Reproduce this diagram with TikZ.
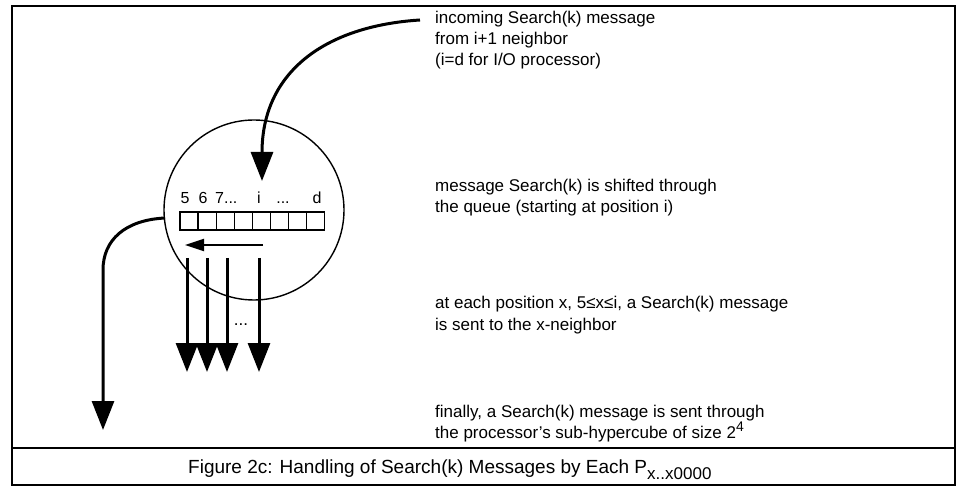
\documentclass[tikz,border=0pt]{standalone}
\usepackage{fontspec}
\setmainfont{Liberation Sans}
\usetikzlibrary{arrows.meta, positioning, calc}
\tikzset{
    font=\fontsize{17}{21}\selectfont,
    % Lines
    outerframe/.style={draw, line width=1.4pt},
    qcell/.style={rectangle, draw, line width=1.3pt, minimum width=18.1pt,
                  minimum height=18pt, inner sep=0pt, outer sep=0pt},
    % Flow & Labels
    bigflow/.style={-{Triangle[width=22pt,length=29pt]}, line width=3pt},
    queueflow/.style={-{Triangle[width=12pt,length=19pt]}, line width=2pt},
    qlbl/.style={anchor=base, inner sep=0pt, font=\fontsize{16}{16}\selectfont},
    note/.style={anchor=base west, align=left, inner sep=0pt}
}

\begin{document}
\begin{tikzpicture}[x=1pt, y=-1pt]

\useasboundingbox (0,0) rectangle (958,486);

% frame and caption band
\draw[outerframe] (12,6) rectangle (955,485);
\draw[outerframe] (12,448) -- (955,448);

% processor with its queue
\node[circle, draw, line width=1.4pt, minimum size=180pt, inner sep=0pt] (proc) at (254,210) {};
\foreach \i in {1,...,8}
    \node[qcell] (q\i) at ({180+18.1*(\i-0.5)},221) {};

\node[qlbl] (l5) at (185,204) {5};
\node[qlbl] (l6) at (203,204) {6};
\node[qlbl, anchor=base west] (l7) at (215,204) {7...};
\node[qlbl] (li) at (259,204) {i};
\node[qlbl] (ldots) at (283,204) {...};
\node[qlbl] (ld) at (317,204) {d};

% connectors
\coordinate (inStart) at (420,20);
\coordinate (inTip) at (262,181);
\draw[bigflow] (inStart) .. controls (325,26) and (262,72) .. (inTip);

\coordinate (shStart) at (263,245);
\coordinate (shTip) at (185,245);
\draw[queueflow] (shStart) -- (shTip);

\foreach \n/\x in {a/187,b/207,c/227,d/259} {
    \coordinate (d\n0) at (\x,258);
    \coordinate (d\n1) at (\x,372);
    \draw[bigflow] (d\n0) -- (d\n1);
}
\node (sdots) at (241,325) {...};

\coordinate (outStart) at (165,218);
\coordinate (outTip) at (103,430);
\draw[bigflow] (outStart) .. controls (125,220) and (103,240) .. (103,270) -- (outTip);

% explanations (anchored on the last line)
\node[note] (n1) at (435,66) {incoming Search(k) message\\from i+1 neighbor\\(i=d for I/O processor)};
\node[note] (n2) at (435,213) {message Search(k) is shifted through\\the queue (starting at position i)};
\node[note] (n3) at (435,330) {at each position x, 5≤x≤i, a Search(k) message\\is sent to the x-neighbor};
\node[note] (n4) at (435,438) {finally, a Search(k) message is sent through\\the processor's sub-hypercube of size 2\raisebox{7pt}{\fontsize{14}{14}\selectfont 4}};

\node[anchor=base west, inner sep=0pt, font=\fontsize{19}{19}\selectfont] (cap) at (188,473)
    {Figure 2c: Handling of Search(k) Messages by Each P\raisebox{-6pt}{\fontsize{17}{17}\selectfont x..x0000}};

\end{tikzpicture}
\end{document}
